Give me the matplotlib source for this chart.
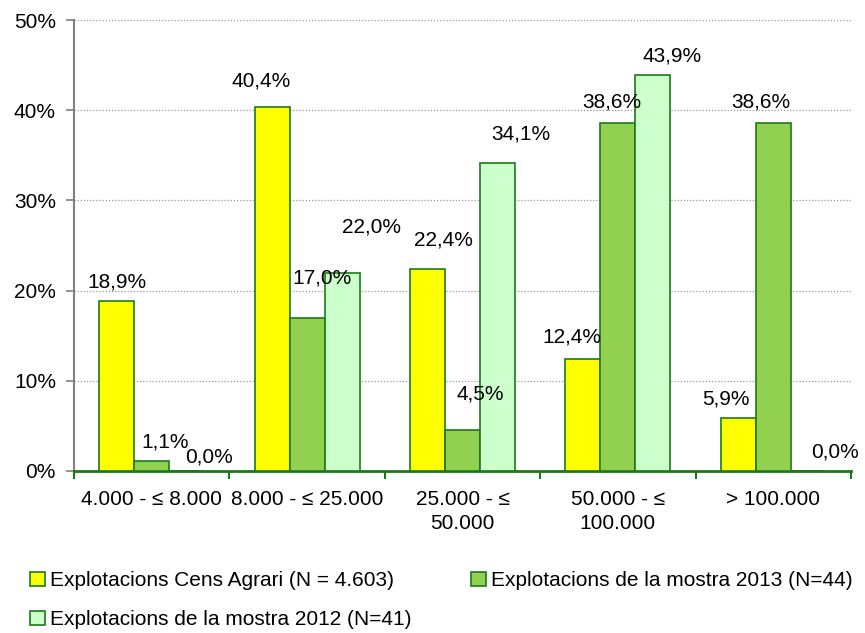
import numpy as np
import matplotlib.pyplot as plt
from matplotlib.ticker import FuncFormatter

plt.rcParams['font.family'] = ['Liberation Sans', 'DejaVu Sans']

categories = ["4.000 - ≤ 8.000", "8.000 - ≤ 25.000", "25.000 - ≤\n50.000",
              "50.000 - ≤\n100.000", "> 100.000"]
series_names = ["Explotacions Cens Agrari (N = 4.603)",
                "Explotacions de la mostra 2013 (N=44)",
                "Explotacions de la mostra 2012 (N=41)"]
cens = [18.9, 40.4, 22.4, 12.4, 5.9]
mostra_2013 = [1.1, 17.0, 4.5, 38.6, 38.6]
mostra_2012 = [0.0, 22.0, 34.1, 43.9, 0.0]

colors = ["#FFFF00", "#92D050", "#CCFFCC"]
edge = "#1A7A1A"
fs = 15

# label offsets in pixels (dx, dy) from top centre of each bar, Excel-style placement
label_offsets = [
    [(0, 19), (-11, 26), (16, 29), (-11, 22), (-12, 19)],
    [(13, 19), (15, 40), (18, 36), (-6, 21), (-12, 21)],
    [(22, 14), (29, 46), (23, 29), (19, 19), (27, 19)],
]

fig = plt.figure(figsize=(8.65, 6.33), dpi=100)
ax = fig.add_axes([74 / 865, 1 - 471 / 633, 777 / 865, 451 / 633])

x = np.arange(len(categories))
w = 0.225
data = [cens, mostra_2013, mostra_2012]
for i, vals in enumerate(data):
    pos = x + (i - 1) * w
    ax.bar(pos, vals, width=w, color=colors[i], edgecolor=edge, linewidth=1.2,
           label=series_names[i], zorder=3)
    for j, v in enumerate(vals):
        dx, dy = label_offsets[i][j]
        ax.annotate(f"{v:.1f}%".replace(".", ","), xy=(pos[j], v),
                    xytext=(dx, dy), textcoords="offset pixels",
                    ha="center", va="center", fontsize=fs, zorder=4)

ax.set_xlim(-0.5, len(categories) - 0.5)
ax.set_ylim(0, 50)
ax.set_yticks(np.arange(0, 51, 10))
ax.yaxis.set_major_formatter(FuncFormatter(lambda v, p: f"{v:.0f}%"))
ax.yaxis.grid(True, linestyle=(0, (1, 1.5)), color="#999999", linewidth=0.9, zorder=0)
ax.tick_params(axis="y", labelsize=fs, length=6, color="#808080", width=1.2, pad=7)

ax.set_xticks(x)
ax.set_xticklabels(categories, fontsize=fs, linespacing=1.32)
ax.set_xticks(np.arange(-0.5, len(categories), 1), minor=True)
ax.tick_params(axis="x", which="major", length=0, pad=14)
ax.tick_params(axis="x", which="minor", length=6, color=edge, width=1.5)

for s in ["top", "right"]:
    ax.spines[s].set_visible(False)
ax.spines["left"].set_color("#808080")
ax.spines["left"].set_linewidth(1.5)
ax.spines["bottom"].set_color(edge)
ax.spines["bottom"].set_linewidth(2)

handles, labels = ax.get_legend_handles_labels()
order = [0, 2, 1]
fig.legend([handles[k] for k in order], [labels[k] for k in order],
           loc="upper left", bbox_to_anchor=(20 / 865, 1 - 561 / 633),
           ncol=2, frameon=False, fontsize=fs, handlelength=0.7,
           handleheight=0.7, handletextpad=0.25, columnspacing=2.85,
           labelspacing=0.95, borderpad=0)

fig.savefig("out.png", dpi=100)
